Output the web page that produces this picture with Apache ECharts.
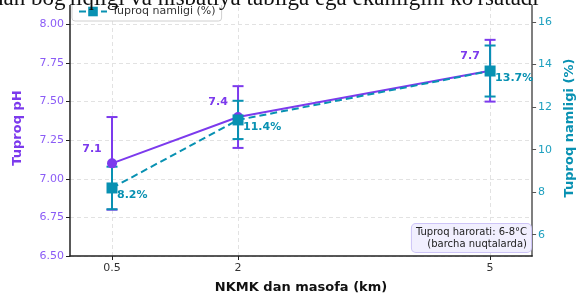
<!DOCTYPE html>
<html>
<head>
<meta charset="UTF-8">
<title>Tuproq pH va namligi</title>
<script src="https://cdn.jsdelivr.net/npm/echarts@6/dist/echarts.min.js"></script>
<style>
  html, body { margin: 0; padding: 0; background: #fff; }
  #main { width: 584px; height: 299px; }
</style>
</head>
<body>
<div id="main"></div>
<script>
// masofa (km)
var distances = [0.5, 2, 5];
var phValues = [7.1, 7.4, 7.7];
var phErrors = [0.3, 0.2, 0.2];
var moistValues = [8.2, 11.4, 13.7];
var moistErrors = [1.0, 0.9, 1.2];
var xTicks = [0.5, 2, 5];
var phTicks = [6.5, 6.75, 7, 7.25, 7.5, 7.75, 8];
var moistTicks = [6, 8, 10, 12, 14, 16];

var purple = '#7c3aed';
var teal = '#0891b2';
var font = 'DejaVu Sans';

function pairs(vals) {
  return distances.map(function (d, i) { return [d, vals[i]]; });
}
function triples(vals, errs) {
  return distances.map(function (d, i) { return [d, vals[i], errs[i]]; });
}

function errorBar(color) {
  return function (params, api) {
    var x = api.value(0), y = api.value(1), e = api.value(2);
    var hi = api.coord([x, y + e]);
    var lo = api.coord([x, y - e]);
    var w = 5.5;
    var st = { stroke: color, lineWidth: 2 };
    return {
      type: 'group',
      children: [
        { type: 'line', shape: { x1: hi[0], y1: hi[1], x2: lo[0], y2: lo[1] }, style: st },
        { type: 'line', shape: { x1: hi[0] - w, y1: hi[1], x2: hi[0] + w, y2: hi[1] }, style: st },
        { type: 'line', shape: { x1: lo[0] - w, y1: lo[1], x2: lo[0] + w, y2: lo[1] }, style: st }
      ]
    };
  };
}

var chart = echarts.init(document.getElementById('main'));

var option = {
  animation: false,
  textStyle: { fontFamily: font },
  grid: { left: 70, right: 41.5, top: 0, bottom: 36.5, containLabel: false },
  legend: {
    orient: 'vertical',
    left: 72,
    top: -13,
    padding: [4, 6],
    itemGap: 4,
    itemWidth: 28,
    itemHeight: 12,
    backgroundColor: '#fff',
    borderColor: '#d0d0d0',
    borderWidth: 1,
    borderRadius: 3,
    textStyle: { fontSize: 11, color: '#333', fontFamily: font },
    data: ['Tuproq pH', 'Tuproq namligi (%)']
  },
  xAxis: {
    type: 'value',
    min: 0,
    max: 5.5,
    name: 'NKMK dan masofa (km)',
    nameLocation: 'middle',
    nameGap: 25,
    nameTextStyle: { fontSize: 13, fontWeight: 'bold', color: '#111', fontFamily: font },
    axisLine: { lineStyle: { color: '#222', width: 1.5 } },
    axisTick: { customValues: xTicks, length: 4, lineStyle: { color: '#222' } },
    axisLabel: { customValues: xTicks, fontSize: 11, color: '#333', margin: 7 },
    splitLine: { show: true, lineStyle: { color: '#e2e2e2', type: [4, 3], width: 1 } }
  },
  yAxis: [
    {
      type: 'value',
      min: 6.5,
      max: 8.158,
      name: 'Tuproq pH',
      nameLocation: 'middle',
      nameGap: 46,
      nameTextStyle: { fontSize: 13, fontWeight: 'bold', color: purple, fontFamily: font },
      axisLine: { show: true, lineStyle: { color: '#222', width: 1.5 } },
      axisTick: { show: true, customValues: phTicks, length: 4, lineStyle: { color: '#222' } },
      axisLabel: {
        customValues: phTicks,
        fontSize: 11, color: '#8b5cf6', margin: 6,
        formatter: function (v) { return v.toFixed(2); }
      },
      splitLine: { show: true, lineStyle: { color: '#e2e2e2', type: [4, 3], width: 1 } }
    },
    {
      type: 'value',
      min: 5,
      max: 17.04,
      position: 'right',
      name: 'Tuproq namligi (%)',
      nameLocation: 'middle',
      nameGap: 25,
      nameRotate: 90,
      nameTextStyle: { fontSize: 13, fontWeight: 'bold', color: teal, fontFamily: font },
      axisLine: { show: true, lineStyle: { color: '#555', width: 1.5 } },
      axisTick: { show: true, customValues: moistTicks, length: 4, lineStyle: { color: '#555' } },
      axisLabel: { customValues: moistTicks, fontSize: 11, color: '#1ea0bf', margin: 6 },
      splitLine: { show: false }
    }
  ],
  series: [
    {
      name: 'pH xato',
      type: 'custom',
      xAxisIndex: 0,
      yAxisIndex: 0,
      z: 1,
      renderItem: errorBar(purple),
      encode: { x: 0, y: 1 },
      data: triples(phValues, phErrors)
    },
    {
      name: 'namlik xato',
      type: 'custom',
      xAxisIndex: 0,
      yAxisIndex: 1,
      z: 2,
      renderItem: errorBar(teal),
      encode: { x: 0, y: 1 },
      data: triples(moistValues, moistErrors)
    },
    {
      name: 'Tuproq pH',
      type: 'line',
      yAxisIndex: 0,
      z: 3,
      symbol: 'circle',
      symbolSize: 10,
      itemStyle: { color: purple },
      lineStyle: { color: purple, width: 2 },
      label: {
        show: true,
        position: 'top',
        offset: [-20, 1],
        fontSize: 11,
        fontWeight: 'bold',
        color: purple,
        formatter: function (p) { return p.value[1].toFixed(1); }
      },
      data: pairs(phValues)
    },
    {
      name: 'Tuproq namligi (%)',
      type: 'line',
      yAxisIndex: 1,
      z: 4,
      symbol: 'rect',
      symbolSize: 11,
      itemStyle: { color: teal },
      lineStyle: { color: teal, width: 2, type: [7, 4] },
      label: {
        show: true,
        position: 'right',
        offset: [-5.5, 7],
        fontSize: 11,
        fontWeight: 'bold',
        color: teal,
        formatter: function (p) { return p.value[1].toFixed(1) + '%'; }
      },
      data: pairs(moistValues)
    }
  ],
  graphic: [
    {
      type: 'rect',
      left: 0, top: 0, z: 100,
      shape: { width: 584, height: 5 },
      style: { fill: '#fff' }
    },
    {
      type: 'text',
      x: -8, y: 10, z: 101,
      style: {
        text: "nan bog'liqligi va nisbatiya tabiiga ega ekanligini ko'rsatadi",
        font: '23px "Liberation Serif"',
        fill: '#111',
        verticalAlign: 'bottom'
      }
    },
    {
      type: 'text',
      x: 531, y: 252, z: 50,
      style: {
        text: 'Tuproq harorati: 6-8°C\n(barcha nuqtalarda)',
        font: '10px "DejaVu Sans"',
        fill: '#222',
        align: 'right',
        verticalAlign: 'bottom',
        lineHeight: 12,
        backgroundColor: '#f1effe',
        borderColor: '#cdc4f7',
        borderWidth: 1,
        borderRadius: 4,
        padding: [2, 4, 2, 4]
      }
    }
  ]
};

chart.setOption(option);
</script>
</body>
</html>
